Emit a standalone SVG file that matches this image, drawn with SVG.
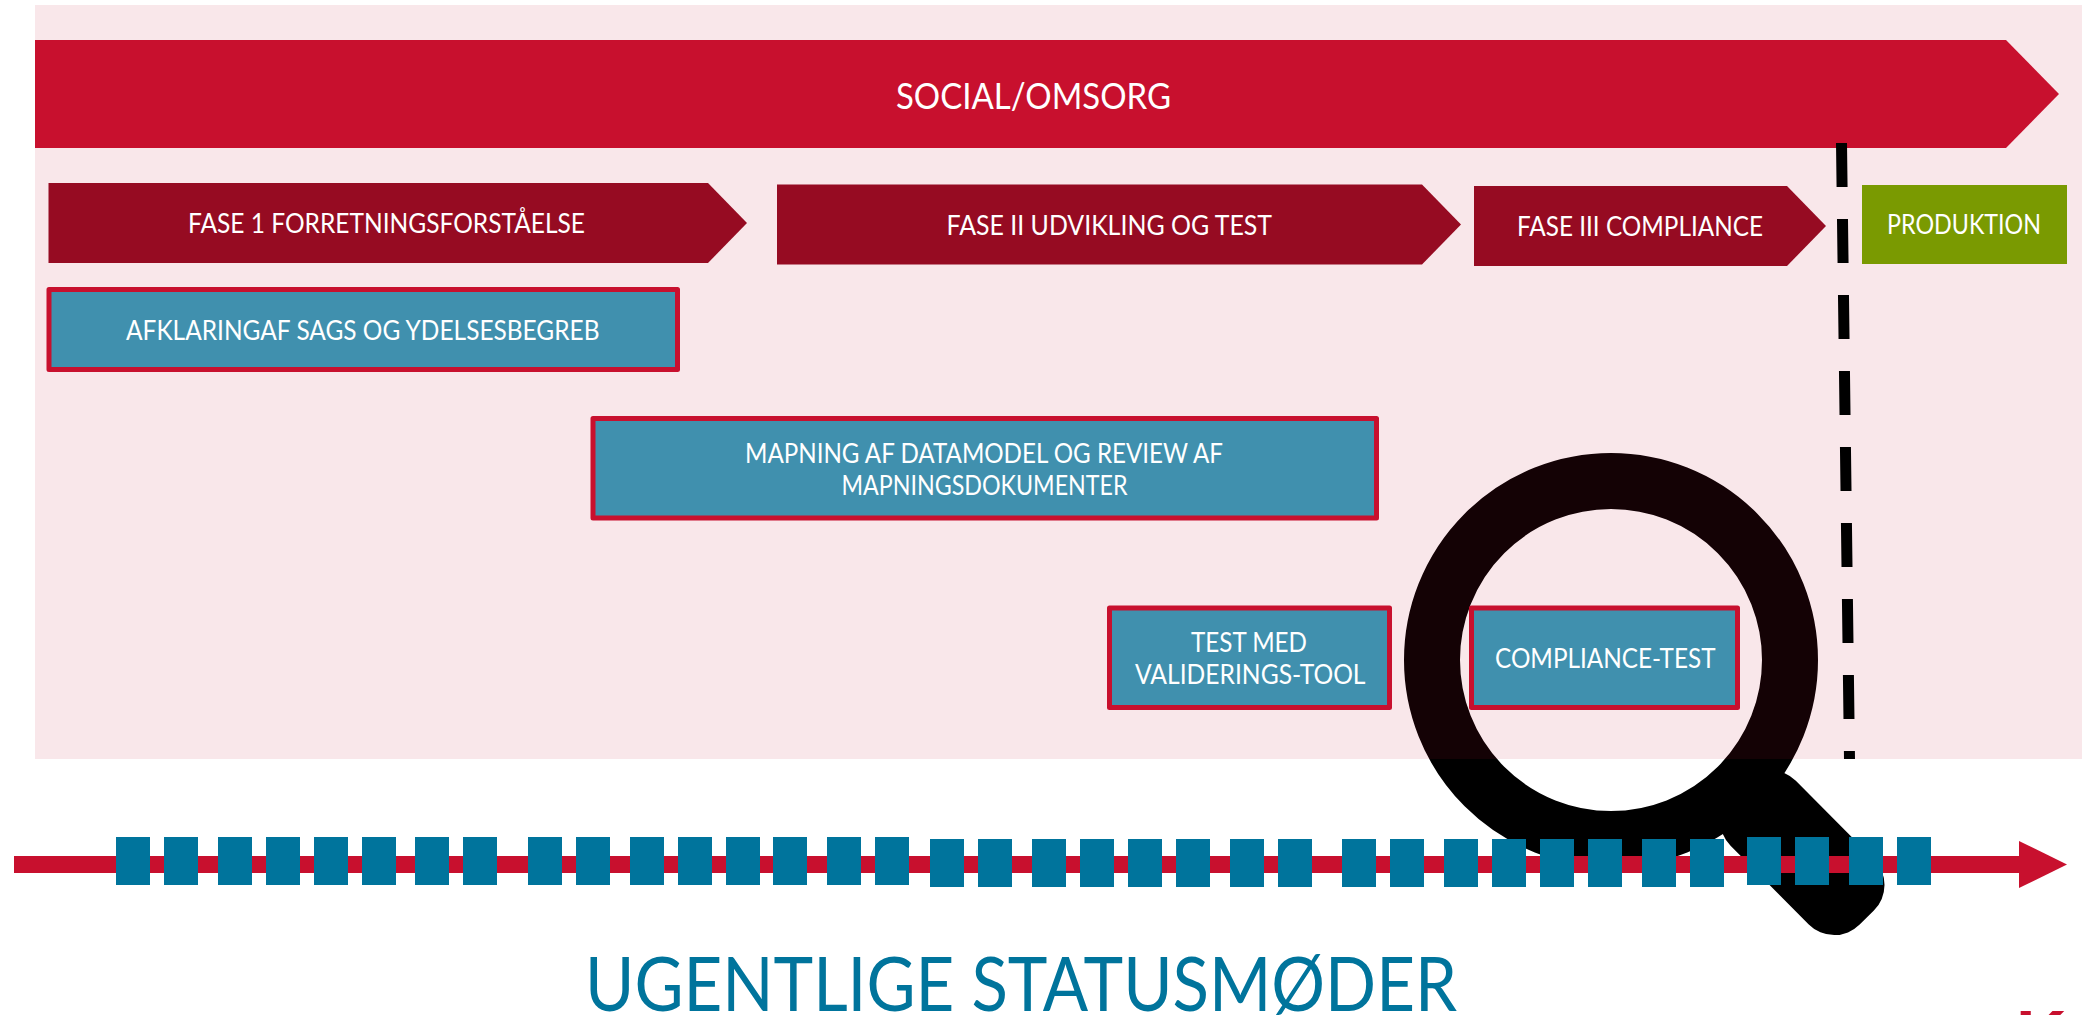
<svg xmlns="http://www.w3.org/2000/svg" width="2082" height="1015" viewBox="0 0 2082 1015">
<style>
text{font-family:Lato,"Open Sans","Liberation Sans",sans-serif;fill:#fff;font-size:26px;text-anchor:start}
.phase{fill:#960b22}
.box rect,rect.box{fill:#4090ae;stroke:#c8102e;stroke-width:5;stroke-linejoin:round}
.sq{fill:#00749c;width:34px;height:48px}
</style>
<defs>
<marker id="head" markerUnits="userSpaceOnUse" markerWidth="48" markerHeight="47" refX="0" refY="23.5" orient="auto"><path d="M0 0L48 23.5L0 47Z" fill="#c8102e"/></marker>
</defs>
<rect width="2082" height="1015" fill="#fff"/>
<g id="magnifier">
<circle cx="1611" cy="660" r="179" stroke="#000" fill="none" stroke-width="56"/>
<rect x="180" y="-46" width="183" height="92" rx="36" fill="#000" transform="translate(1611 660) rotate(45.2)"/>
</g>
<rect id="background" x="35" y="5" width="2047" height="754" fill="#c8102e" fill-opacity=".1"/>
<g id="banner">
<path d="M35 40H2006L2059 94L2006 148H35Z" fill="#c8102e"/>
<text x="896" y="109" style="font-size:36px" textLength="275" lengthAdjust="spacingAndGlyphs">SOCIAL/OMSORG</text>
</g>
<g id="fase1">
<path class="phase" d="M48.500 183H708L747 223L708 263H48.500Z"/>
<text x="188" y="232.500" textLength="397" lengthAdjust="spacingAndGlyphs">FASE 1 FORRETNINGSFORSTÅELSE</text>
</g>
<g id="fase2">
<path class="phase" d="M777 184.500H1422L1461 224.500L1422 264.500H777Z"/>
<text x="946.500" y="234.500" textLength="325.500" lengthAdjust="spacingAndGlyphs">FASE II UDVIKLING OG TEST</text>
</g>
<g id="fase3">
<path class="phase" d="M1474 186H1787L1826 226L1787 266H1474Z"/>
<text x="1517" y="236" textLength="246" lengthAdjust="spacingAndGlyphs">FASE III COMPLIANCE</text>
</g>
<g id="produktion">
<rect x="1862" y="185" width="205" height="79" fill="#7a9a01"/>
<text x="1887" y="234" textLength="154" lengthAdjust="spacingAndGlyphs">PRODUKTION</text>
</g>
<g id="afklaring" class="box">
<rect x="49" y="289.500" width="628.500" height="80"/>
<text x="126" y="340" textLength="473.500" lengthAdjust="spacingAndGlyphs">AFKLARINGAF SAGS OG YDELSESBEGREB</text>
</g>
<g id="mapning" class="box">
<rect x="593" y="418.500" width="783.500" height="99.500"/>
<text x="745" y="462.500" textLength="478" lengthAdjust="spacingAndGlyphs">MAPNING AF DATAMODEL OG REVIEW AF</text>
<text x="841.500" y="495" textLength="286" lengthAdjust="spacingAndGlyphs">MAPNINGSDOKUMENTER</text>
</g>
<g id="test" class="box">
<rect x="1109.500" y="608" width="280" height="99.500"/>
<text x="1191" y="651.500" textLength="116" lengthAdjust="spacingAndGlyphs">TEST MED</text>
<text x="1135" y="684" textLength="230.500" lengthAdjust="spacingAndGlyphs">VALIDERINGS-TOOL</text>
</g>
<g id="compliance" class="box">
<rect x="1471.500" y="608" width="266" height="99.500"/>
<text x="1495" y="668" textLength="220.500" lengthAdjust="spacingAndGlyphs">COMPLIANCE-TEST</text>
</g>
<g id="connectors">
<line x1="14" y1="864.500" x2="2019" y2="864.500" stroke="#c8102e" stroke-width="17" marker-end="url(#head)"/>
<line x1="1841.500" y1="143" x2="1849.500" y2="759" stroke="#000" stroke-width="11" stroke-dasharray="44 32"/>
</g>
<g id="statusmoeder">
<rect class="sq" x="116" y="837"/><rect class="sq" x="164" y="837"/><rect class="sq" x="218" y="837"/><rect class="sq" x="266" y="837"/><rect class="sq" x="314" y="837"/><rect class="sq" x="362" y="837"/><rect class="sq" x="415" y="837"/><rect class="sq" x="463" y="837"/>
<rect class="sq" x="528" y="837"/><rect class="sq" x="576" y="837"/><rect class="sq" x="630" y="837"/><rect class="sq" x="678" y="837"/><rect class="sq" x="726" y="837"/><rect class="sq" x="773" y="837"/><rect class="sq" x="827" y="837"/><rect class="sq" x="875" y="837"/>
<rect class="sq" x="930" y="839"/><rect class="sq" x="978" y="839"/><rect class="sq" x="1032" y="839"/><rect class="sq" x="1080" y="839"/><rect class="sq" x="1128" y="839"/><rect class="sq" x="1176" y="839"/><rect class="sq" x="1230" y="839"/><rect class="sq" x="1278" y="839"/>
<rect class="sq" x="1342" y="839"/><rect class="sq" x="1390" y="839"/><rect class="sq" x="1444" y="839"/><rect class="sq" x="1492" y="839"/><rect class="sq" x="1540" y="839"/><rect class="sq" x="1588" y="839"/><rect class="sq" x="1642" y="839"/><rect class="sq" x="1690" y="839"/>
<rect class="sq" x="1747" y="837"/><rect class="sq" x="1795" y="837"/><rect class="sq" x="1849" y="837"/><rect class="sq" x="1897" y="837"/>
<text x="585" y="1011" style="font-size:75px;fill:#00749c" textLength="872" lengthAdjust="spacingAndGlyphs">UGENTLIGE STATUSMØDER</text>
</g>
<text id="corner" x="2016" y="1060" style="font-size:70px;font-weight:700;fill:#c8102e;font-family:'Liberation Sans',sans-serif">K</text>
</svg>
